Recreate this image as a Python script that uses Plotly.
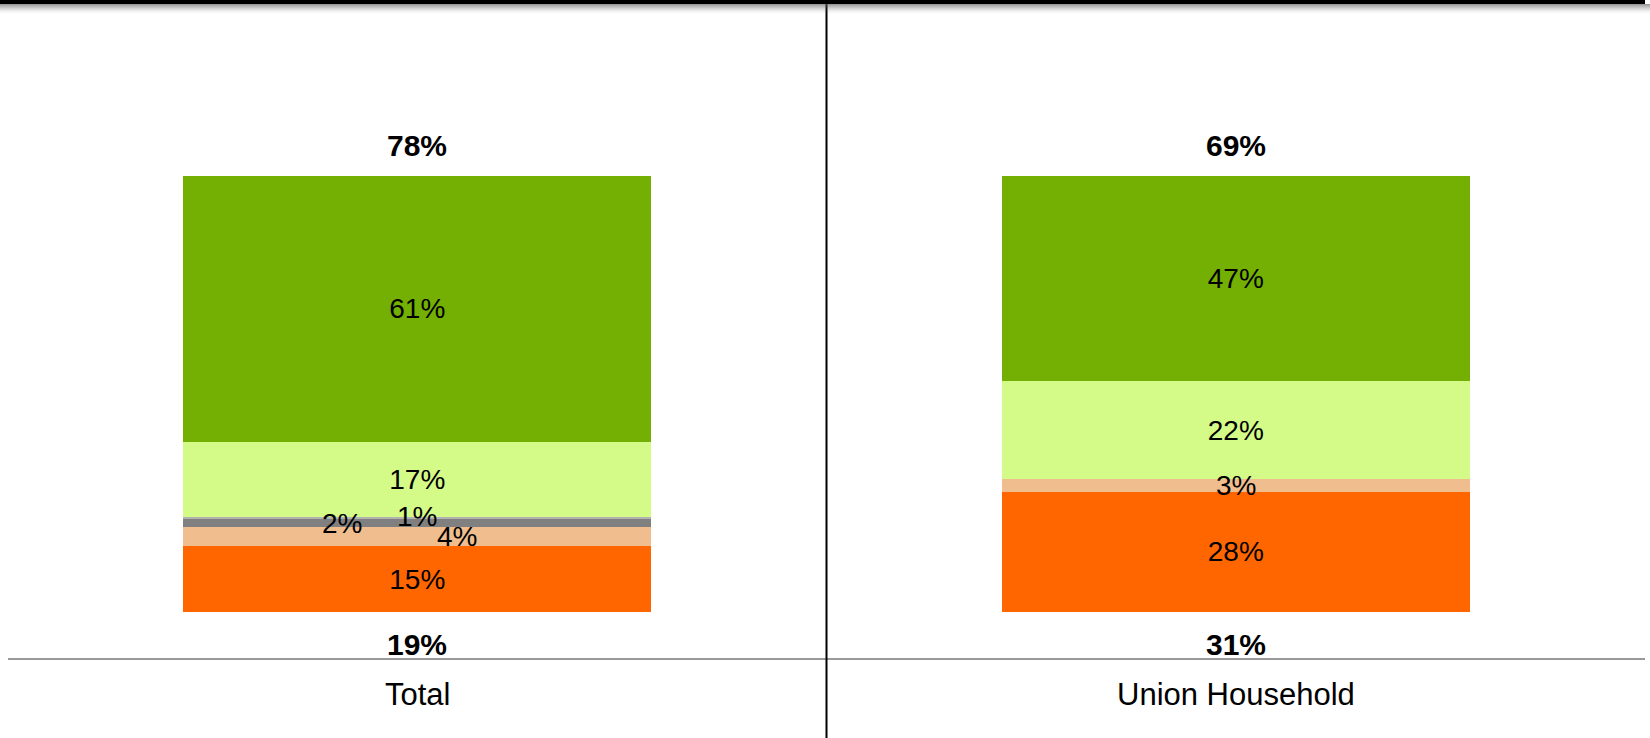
import plotly.graph_objects as go

categories = ["Total", "Union Household"]

# stacked segments, bottom to top (share of respondents, %)
orange = [15.1, 27.6]
peach = [4.3, 3.0]
dark_gray = [1.9, 0.0]
light_gray = [0.5, 0.0]
light_green = [17.3, 22.3]
green = [60.9, 47.1]

# labels as printed on the chart
orange_lbl = ["15%", "28%"]
peach_lbl = ["4%", "3%"]
dark_gray_lbl = ["2%", ""]
light_gray_lbl = ["1%", ""]
light_green_lbl = ["17%", "22%"]
green_lbl = ["61%", "47%"]
top_net = ["78%", "69%"]
bottom_net = ["19%", "31%"]

FONT = "Arial, Liberation Sans, sans-serif"
W = 0.572
LBL = 28

segments = [
    (orange, orange_lbl, "#FF6600"),
    (peach, peach_lbl, "#F0BE8E"),
    (dark_gray, dark_gray_lbl, "#808080"),
    (light_gray, light_gray_lbl, "#B2B2B2"),
    (light_green, light_green_lbl, "#D4FA88"),
    (green, green_lbl, "#74AF04"),
]

fig = go.Figure()
for vals, lbls, col in segments:
    # thin segments are labelled with annotations further down
    txt = [l if v >= 10 else "" for v, l in zip(vals, lbls)]
    fig.add_trace(
        go.Bar(
            x=categories,
            y=vals,
            width=W,
            marker=dict(color=col, line=dict(width=0)),
            text=txt,
            textposition="inside",
            insidetextanchor="middle",
            constraintext="none",
            textfont=dict(family=FONT, size=LBL, color="black"),
            textangle=0,
            hoverinfo="skip",
        )
    )

annotations = []
# small-segment labels, offset the way the original places them
base_peach = [orange[i] + peach[i] / 2 for i in range(2)]
base_gray = orange[0] + peach[0] + dark_gray[0] / 2
base_lgray = orange[0] + peach[0] + dark_gray[0] + light_gray[0]
for cat, text, y, dx in [
    (categories[0], peach_lbl[0], base_peach[0], 40),
    (categories[0], dark_gray_lbl[0], base_gray, -75),
    (categories[0], light_gray_lbl[0], base_lgray, 0),
    (categories[1], peach_lbl[1], base_peach[1], 0),
]:
    annotations.append(
        dict(x=cat, y=y, text=text, showarrow=False, xshift=dx,
             font=dict(family=FONT, size=LBL, color="black"))
    )

for i, cat in enumerate(categories):
    total = orange[i] + peach[i] + dark_gray[i] + light_gray[i] + light_green[i] + green[i]
    annotations.append(
        dict(x=cat, y=total, text="<b>%s</b>" % top_net[i], showarrow=False,
             yanchor="middle", yshift=31, font=dict(family=FONT, size=30, color="black"))
    )
    annotations.append(
        dict(x=cat, y=0, text="<b>%s</b>" % bottom_net[i], showarrow=False,
             yanchor="middle", yshift=-32, font=dict(family=FONT, size=30, color="black"))
    )
    annotations.append(
        dict(x=cat, y=0, yref="paper", text=cat, showarrow=False,
             yanchor="middle", yshift=-36, font=dict(family=FONT, size=31, color="black"))
    )

shapes = [
    # divider between the two panels
    dict(type="line", xref="x", yref="paper", x0=0.5, x1=0.5, y0=-0.13, y1=1.0,
         line=dict(color="black", width=2)),
]
# top frame with a soft shadow
for k, op in enumerate([0.6, 0.5, 0.42, 0.34, 0.26, 0.19, 0.13, 0.08, 0.04, 0.02]):
    shapes.append(
        dict(type="rect", xref="paper", yref="paper", x0=-0.005, x1=1.004,
             y0=1 - (5 + k) / 658, y1=1 - (4 + k) / 658,
             line=dict(width=0), fillcolor="rgba(90,90,90,%s)" % op)
    )
shapes.append(
    dict(type="rect", xref="paper", yref="paper", x0=-0.005, x1=1.0,
         y0=1 - 4 / 658, y1=1.0, line=dict(width=0), fillcolor="black")
)

fig.update_layout(
    width=1650,
    height=738,
    barmode="stack",
    showlegend=False,
    paper_bgcolor="white",
    plot_bgcolor="white",
    margin=dict(l=8, r=5, t=0, b=80),
    font=dict(family=FONT, color="black"),
    annotations=annotations,
    shapes=shapes,
    xaxis=dict(showticklabels=False, showline=True, linecolor="#999999", linewidth=2,
               showgrid=False, zeroline=False, ticks=""),
    yaxis=dict(range=[-10.55, 140.4], visible=False, showgrid=False, zeroline=False),
)

fig.write_html(
    "out.html",
    config={"displayModeBar": False},
    post_script="document.body.style.margin='0px';",
)
